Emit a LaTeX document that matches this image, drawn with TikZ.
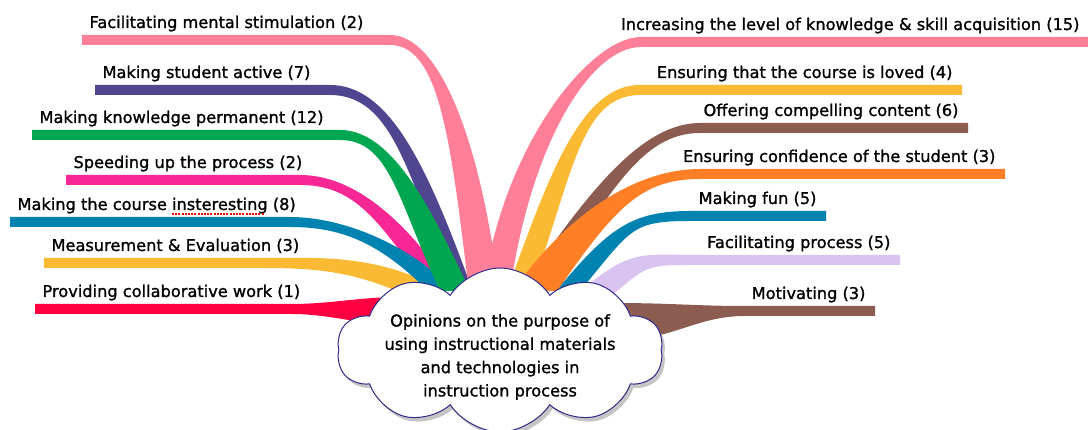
\documentclass[tikz,border=0pt]{standalone}
\usepackage{fontspec}
\setmainfont{DejaVu Sans}[FakeBold=1.2]
\usetikzlibrary{shapes.symbols,shadows}

\definecolor{stimpink}{RGB}{255,127,152}
\definecolor{activepurple}{RGB}{80,70,144}
\definecolor{permgreen}{RGB}{0,166,80}
\definecolor{speedmag}{RGB}{247,40,150}
\definecolor{intteal}{RGB}{0,131,176}
\definecolor{measyellow}{RGB}{251,186,51}
\definecolor{collabred}{RGB}{255,0,64}
\definecolor{motivbrown}{RGB}{140,92,80}
\definecolor{confidorange}{RGB}{255,127,39}
\definecolor{facillav}{RGB}{217,195,240}
\definecolor{cloudline}{RGB}{46,42,140}

% red dotted spell-check mark
\newsavebox{\spellbox}
\newcommand{\spellmark}[1]{\sbox{\spellbox}{#1}%
  \rlap{\raisebox{-0.55ex}{\leaders\hbox{{\color{red}\rule{2pt}{1.5pt}}\hspace{1.2pt}}\hskip\wd\spellbox}}%
  \usebox{\spellbox}}

% colour, bar end, knee shift, knee dir, top root, bottom root, root angle, knee dist, root dist
\newcommand{\branch}[9]{%
  \fill[#1] ([yshift=5]#2) -- ([shift={(#3,5)}]#2)
    to[out=#4,in=#7,out distance=#8pt,in distance=#9pt] ([shift={(#5)}]hub)
    -- ([shift={(#6)}]hub)
    to[out=#7,in=#4,out distance=#9pt,in distance=#8pt] ([shift={(#3,-5)}]#2)
    -- ([yshift=-5]#2) -- cycle;}

\begin{document}
\begin{tikzpicture}[x=1pt,y=1pt,
    lbl/.style={font=\fontsize{16.2}{19}\selectfont},
    topicbox/.style={cloud, cloud puffs=10, cloud puff arc=115, aspect=2,
      draw=cloudline, line width=1pt, fill=white, inner sep=0pt,
      minimum width=326, minimum height=164,
      drop shadow={shadow xshift=3pt, shadow yshift=-4pt, fill=black!45}}]
  \useasboundingbox (0,0) rectangle (1088,430);
  \coordinate (hub) at (500,80);

  % left labels
  \node[lbl, anchor=base west] (stim) at (86,402) {Facilitating mental stimulation (2)};
  \node[lbl, anchor=base west] (active) at (99,352) {Making student active (7)};
  \node[lbl, anchor=base west] (perm) at (36,307) {Making knowledge permanent (12)};
  \node[lbl, anchor=base west] (speed) at (70,262) {Speeding up the process (2)};
  \node[lbl, anchor=base west] (interest) at (14,220) {Making the course \spellmark{insteresting} (8)};
  \node[lbl, anchor=base west] (measure) at (48,179) {Measurement \& Evaluation (3)};
  \node[lbl, anchor=base west] (collab) at (39,133) {Providing collaborative work (1)};

  % right labels
  \node[lbl, anchor=base east] (acquire) at (1083,400) {Increasing the level of knowledge \& skill acquisition (15)};
  \node[lbl, anchor=base east] (loved) at (956,352) {Ensuring that the course is loved (4)};
  \node[lbl, anchor=base east] (content) at (962,314) {Offering compelling content (6)};
  \node[lbl, anchor=base east] (confid) at (999,268) {Ensuring confidence of the student (3)};
  \node[lbl, anchor=base east] (fun) at (820,226) {Making fun (5)};
  \node[lbl, anchor=base east] (facil) at (894,182) {Facilitating process (5)};
  \node[lbl, anchor=base east] (motiv) at (869,131) {Motivating (3)};

  \foreach \n in {stim,active,perm,speed,interest,measure,collab}
    \coordinate (\n-end) at ([shift={(-4,-12)}]\n.base west);
  \foreach \n in {acquire,loved,content,confid,fun,facil,motiv}
    \coordinate (\n-end) at ([shift={(6,-12)}]\n.base east);

  % left branches
  \branch{collabred}{collab-end}{256}{0}{-100,53}{-100,25}{180}{40}{40}
  \branch{measyellow}{measure-end}{216}{0}{-52,57}{-64,39}{150}{60}{80}
  \branch{speedmag}{speed-end}{234}{0}{-55,71}{-80,71}{125}{50}{80}
  \branch{intteal}{interest-end}{280}{0}{-45,59}{-72,59}{135}{50}{70}
  \branch{activepurple}{active-end}{235}{0}{-28,61}{-48,61}{110}{60}{130}
  \branch{permgreen}{perm-end}{308}{0}{-30,59}{-60,59}{115}{50}{100}
  \branch{stimpink}{stim-end}{308}{0}{-1,59}{-31,59}{97}{50}{150}

  % right branches
  \branch{stimpink}{acquire-end}{-448}{180}{-17,59}{10,59}{82}{50}{150}
  \branch{measyellow}{loved-end}{-322}{180}{7,59}{31,59}{70}{60}{120}
  \branch{motivbrown}{content-end}{-268}{180}{28,71}{52,71}{55}{60}{100}
  \branch{facillav}{facil-end}{-200}{180}{78,57}{96,41}{40}{60}{70}
  \branch{intteal}{fun-end}{-136}{180}{56,59}{80,59}{50}{60}{80}
  \branch{confidorange}{confid-end}{-305}{180}{13,59}{57,59}{55}{60}{100}
  \branch{motivbrown}{motiv-end}{-130}{180}{112,47}{112,9}{0}{50}{60}

  \node[topicbox] (topic) at (hub) {};
  \node[lbl, font=\fontsize{16.2}{23.3}\selectfont, align=center] (topictext)
    at ([yshift=-7]topic.center) {Opinions on the purpose of\\using instructional materials\\and technologies in\\instruction process};
\end{tikzpicture}
\end{document}
